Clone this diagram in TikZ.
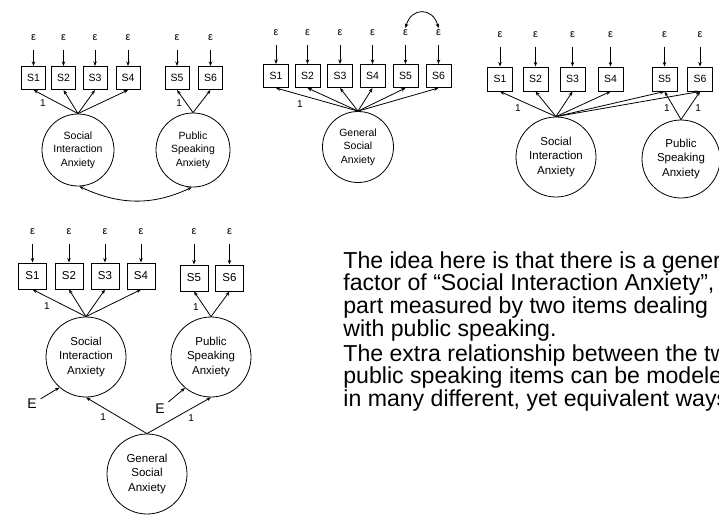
\documentclass[tikz,border=0pt]{standalone}
\usepackage{fontspec}
\setmainfont{Liberation Sans}
\usetikzlibrary{arrows.meta}

\begin{document}
\begin{tikzpicture}[x=1pt,y=-1pt,line width=0.8pt,
        >={Stealth[length=4.5pt,width=3.5pt]},
        item/.style={rectangle,draw,line width=1pt,minimum width=24pt,
                     minimum height=23pt,inner sep=0pt,
                     font=\fontsize{10.5}{10.5}\selectfont},
        err/.style={inner sep=1.5pt,font=\fontsize{11}{11}\selectfont},
        noise/.style={->,shorten <=7pt},
        latent/.style={circle,draw,inner sep=0pt,align=center,
                       font=\fontsize{10.5}{13.5}\selectfont},
        one/.style={inner sep=1pt,font=\fontsize{10}{10}\selectfont},
        resid/.style={inner sep=1pt,font=\fontsize{14}{14}\selectfont},
        note/.style={anchor=north west,align=left,inner sep=0pt,
                     font=\fontsize{23.1}{22.8}\selectfont}]
      \useasboundingbox (0,0) rectangle (719,514);
      \clip (0,0) rectangle (719,514);
      % two correlated factors
      \foreach \i/\x in {1/33.5,2/63.5,3/95,4/128,5/177,6/210.5}{
        \node[item] (As\i) at (\x,78) {S\i};
        \node[err]  (Ae\i) at (\x,38) {ε};
        \draw[noise] (Ae\i) -- (As\i);
      }
      \node[latent,minimum size=72pt] (Asia) at (78,150)  {Social\\Interaction\\Anxiety};
      \node[latent,minimum size=74pt] (Apsa) at (193,150) {Public\\Speaking\\Anxiety};
      \draw[->] (Asia.north) -- node[one,pos=0.79,below=3pt] {1} (As1.south);
      \foreach \i in {2,3,4} \draw[->] (Asia.north) -- (As\i.south);
      \draw[->] (Apsa.north) -- node[one,pos=0.42,left=3pt] {1} (As5.south);
      \draw[->] (Apsa.north) -- (As6.south);
      \draw[<->] (Asia.-88) to[out=-25,in=205] (Apsa.-92);
      % one general factor, correlated errors
      \foreach \i/\x in {1/276,2/307.5,3/340,4/372.5,5/405.5,6/438.5}{
        \node[item,minimum width=25pt] (Bs\i) at (\x,76) {S\i};
        \node[err]  (Be\i) at (\x,33) {ε};
        \draw[noise] (Be\i) -- (Bs\i);
      }
      \node[latent,minimum size=71pt] (Bgsa) at (358,147) {General\\Social\\Anxiety};
      \draw[->] (Bgsa.north) -- node[one,pos=0.71,below=5pt] {1} (Bs1.south);
      \foreach \i in {2,...,6} \draw[->] (Bgsa.north) -- (Bs\i.south);
      \draw[<->] (Be5.north) to[out=75,in=105,looseness=1.7] (Be6.north);
      % cross loadings
      \foreach \i/\x in {1/500,2/535.5,3/572.5,4/610.5,5/664.5,6/700}{
        \node[item,minimum width=25pt,minimum height=24pt] (Cs\i) at (\x,79) {S\i};
        \node[err]  (Ce\i) at (\x,35) {ε};
        \draw[noise] (Ce\i) -- (Cs\i);
      }
      \node[latent,minimum size=80pt,font=\fontsize{11.5}{14.3}\selectfont]
        (Csia) at (556,157) {Social\\Interaction\\Anxiety};
      \node[latent,minimum size=78pt,font=\fontsize{11.5}{14.3}\selectfont]
        (Cpsa) at (681,159) {Public\\Speaking\\Anxiety};
      \draw[->] (Csia.north) -- node[one,pos=0.68,below=4pt] {1} (Cs1.south);
      \foreach \i in {2,...,6} \draw[->] (Csia.north) -- (Cs\i.south);
      \draw[->] (Cpsa.north) -- node[one,pos=0.42,left=3pt]  {1} (Cs5.south);
      \draw[->] (Cpsa.north) -- node[one,pos=0.42,right=5pt] {1} (Cs6.south);
      % second order factor
      \foreach \i/\x/\y in {1/32.5/276,2/69/276,3/105/276,4/141/276,5/194/278,6/229.5/278}{
        \node[item,minimum width=28pt,minimum height=26pt,
              font=\fontsize{11.5}{11.5}\selectfont] (Ds\i) at (\x,\y) {S\i};
        \node[err]  (De\i) at (\x,232) {ε};
        \draw[noise] (De\i) -- (Ds\i);
      }
      \node[latent,minimum size=80pt,font=\fontsize{11.5}{14.3}\selectfont]
        (Dsia) at (86,357)  {Social\\Interaction\\Anxiety};
      \node[latent,minimum size=80pt,font=\fontsize{11.5}{14.3}\selectfont]
        (Dpsa) at (211,357) {Public\\Speaking\\Anxiety};
      \node[latent,minimum size=80pt,font=\fontsize{11.5}{14.3}\selectfont]
        (Dgsa) at (147,474) {General\\Social\\Anxiety};
      \draw[->] (Dsia.north) -- node[one,pos=0.73,below=4pt] {1} (Ds1.south);
      \foreach \i in {2,3,4} \draw[->] (Dsia.north) -- (Ds\i.south);
      \draw[->] (Dpsa.north) -- node[one,pos=0.4,left=4pt] {1} (Ds5.south);
      \draw[->] (Dpsa.north) -- (Ds6.south);
      \draw[->] (Dgsa.north) -- node[one,pos=0.72,below=5pt] {1} (Dsia.south);
      \draw[->] (Dgsa.north) -- node[one,pos=0.69,below=5pt] {1} (Dpsa.south);
      \node[resid] (DEsia) at (32,404)  {E};
      \node[resid] (DEpsa) at (160,409) {E};
      \draw[->,shorten <=3pt] (DEsia) -- (Dsia.229);
      \draw[->,shorten <=3pt] (DEpsa) -- (Dpsa.230);
      % text
      \node[note] (idea) at (343,251) {The idea here is that there is a general\\
        factor of “Social Interaction Anxiety”,\\
        part measured by two items dealing\\
        with public speaking.};
      \node[note] (extra) at (343,344) {The extra relationship between the two\\
        public speaking items can be modeled\\
        in many different, yet equivalent ways.};
    \end{tikzpicture}
\end{document}
